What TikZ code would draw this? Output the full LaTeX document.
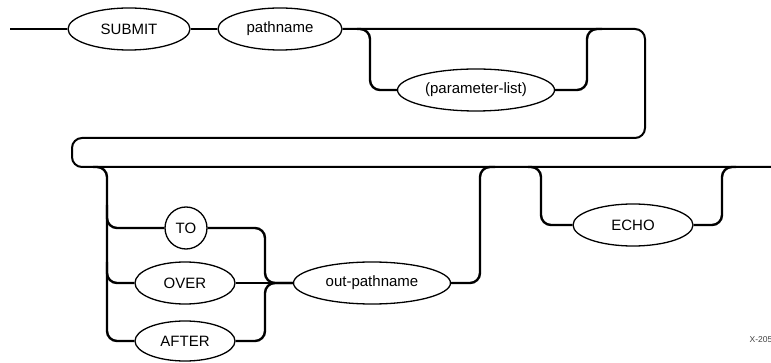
\documentclass[tikz,border=0pt]{standalone}
\usepackage{fontspec}
\setmainfont{Liberation Sans}
\usetikzlibrary{shapes.geometric}
\begin{document}
\begin{tikzpicture}[x=1pt,y=-1pt,
  term/.style={ellipse,draw,line width=1.3pt,inner sep=0pt,font=\fontsize{15}{17}\selectfont},
  termc/.style={circle,draw,line width=1.3pt,inner sep=0pt,minimum size=42pt,font=\fontsize{15}{17}\selectfont},
  rail/.style={line width=2.4pt,rounded corners=10pt},
  rail2/.style={line width=2pt,rounded corners=10pt}]
\useasboundingbox (0,0) rectangle (771,363);
% nodes
\node[term,minimum width=122pt,minimum height=42pt] (submit) at (129,29) {SUBMIT};
\node[term,minimum width=124pt,minimum height=42pt] (pathname) at (280,29) {pathname};
\node[term,minimum width=157pt,minimum height=42pt] (param) at (476,90) {(parameter-list)};
\node[termc] (to) at (186,228) {TO};
\node[term,minimum width=100pt,minimum height=42pt] (over) at (185,283) {OVER};
\node[term,minimum width=100pt,minimum height=40pt] (after) at (185,341) {AFTER};
\node[term,minimum width=157pt,minimum height=42pt] (outp) at (372,283) {out-pathname};
\node[term,minimum width=120pt,minimum height=42pt] (echo) at (633,225) {ECHO};
\node[font=\fontsize{8.5}{10}\selectfont,text=black!75] (lbl) at (761,340) {X-205};
% free ends
\coordinate (start) at (10,29);
\coordinate (finish) at (771,167);
% first line
\draw[rail] (start) -- (submit.west);
\draw[rail] (submit.east) -- (pathname.west);
\draw[rail2] (pathname.east) -- (645,29) -- (645,138) -- (72,138) -- (72,167) -- (finish);
% parameter-list option
\draw[rail] (357,29) -- (370,29) -- (370,90) -- (param.west);
\draw[rail] (param.east) -- (587,90) -- (587,29) -- (602,29);
% choice
\draw[rail] (93,167) -- (107,167) -- (107,341) -- (after.west);
\draw[rail] (107,205) -- (107,228) -- (to.west);
\draw[rail] (107,262) -- (107,283) -- (over.west);
\draw[rail] (to.east) -- (265,228) -- (265,283) -- (outp.west);
\draw[rail] (after.east) -- (265,341) -- (265,283) -- (outp.west);
\draw[rail] (over.east) -- (outp.west);
% out-pathname return
\draw[rail] (outp.east) -- (480,283) -- (480,167) -- (495,167);
% echo option
\draw[rail] (528,167) -- (541,167) -- (541,225) -- (echo.west);
\draw[rail] (echo.east) -- (722,225) -- (722,167) -- (736,167);
\end{tikzpicture}
\end{document}
